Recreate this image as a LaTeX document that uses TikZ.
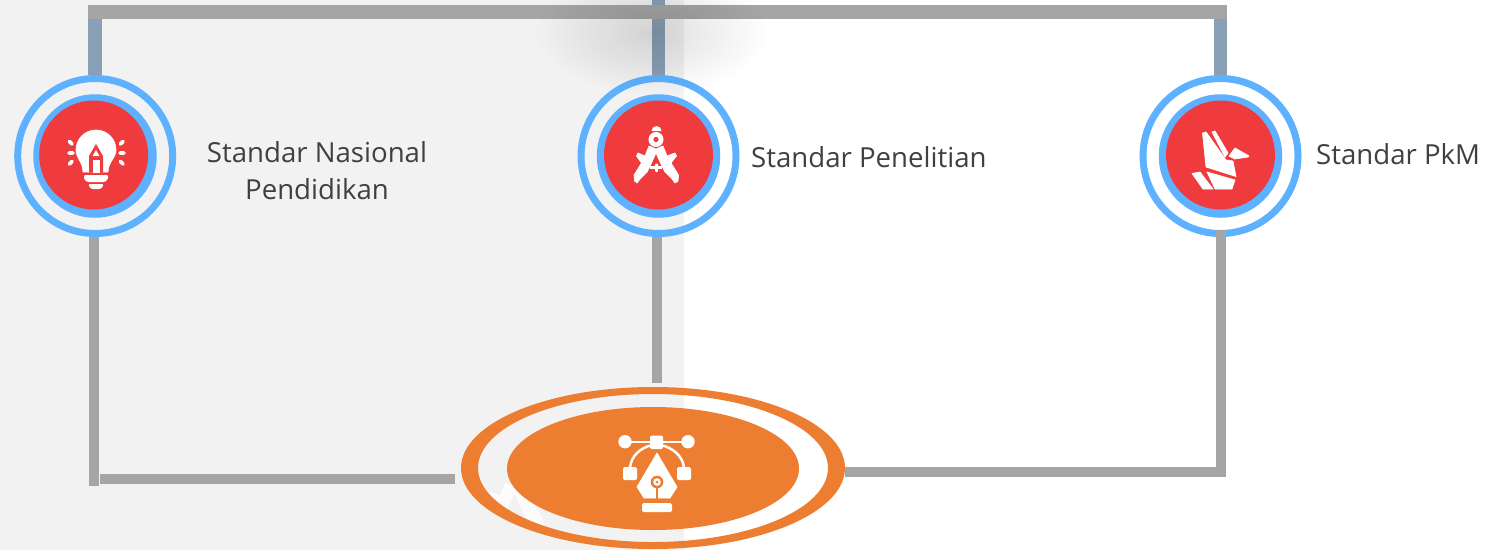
\documentclass[tikz,border=0pt]{standalone}
\usepackage{fontspec}
\setmainfont{Open Sans}
\usetikzlibrary{shapes.geometric,fadings}
\definecolor{barg}{HTML}{A5A5A5}
\definecolor{barb}{HTML}{8AA0B6}
\definecolor{ringb}{HTML}{5DB1FF}
\definecolor{redd}{HTML}{EF3B3D}
\definecolor{orng}{HTML}{ED7D31}
\definecolor{pale}{HTML}{F2F2F2}
\definecolor{txt}{HTML}{404040}
\tikzfading[name=softshade,inner color=transparent!0,outer color=transparent!100]
\tikzset{
  bar/.style={draw=barg,line width=10pt,line cap=butt,line join=miter},
  topbar/.style={draw=barg,line width=14pt},
  riser/.style={draw=barb,line width=14pt},
  ringout/.style={circle,draw=ringb,line width=7pt,minimum size=155pt,inner sep=0pt},
  ringin/.style={circle,fill=ringb,minimum size=123.5pt,inner sep=0pt},
  disc/.style={circle,fill=redd,minimum size=109pt,inner sep=0pt},
  textlab/.style={text=txt,font=\fontsize{27.6}{37}\selectfont,inner sep=0pt},
  ico/.style={fill=white,draw=white,line width=.7pt,line join=round},
}
\newcommand{\compasslegs}{%
  \path[ico] (649,146) -- (645,156) -- (638,153) -- (636.5,156) -- (641.5,163) -- (634,175) -- (634.5,181) -- (637,183) -- (640,179) -- (647,172) -- (651,164) -- (656,153) -- (661,164) -- (665,172) -- (672,179) -- (675,183) -- (678,181) -- (678.5,175) -- (671,163) -- (676.5,156) -- (675,153) -- (667,156) -- (663,146) -- (656,149) -- cycle;
}
\begin{document}
\begin{tikzpicture}[x=1pt,y=-1pt]
\useasboundingbox (0,0) rectangle (1489,550);
\fill[white] (0,0) rectangle (1489,550);
\fill[pale] (0,0) rectangle (684,550);

% anchors for the connectors
\coordinate (topL) at (88,12);
\coordinate (topR) at (1227,12);
\coordinate (topEdge) at (658.5,0);
\coordinate (lowL) at (94,486);
\coordinate (lowLt) at (94,237);
\coordinate (lowC) at (657,383);
\coordinate (lowCt) at (657,237);
\coordinate (lowRt) at (1221,230);
\coordinate (lowRc) at (1221,472);
\coordinate (hL) at (100,479);
\coordinate (hLe) at (455,479);

% rings
\node[ringout] (r1) at (95.2,156) {};
\node[ringout] (r2) at (658.5,156) {};
\node[ringout] (r3) at (1220.5,156) {};
\node[ringin] (i1) at (95,156) {};
\node[ringin] (i2) at (658.5,156) {};
\node[ringin] (i3) at (1220.5,156) {};
\node[disc] (d1) at (93.7,155) {};
\node[disc] (d2) at (658.5,155) {};
\node[disc] (d3) at (1220.5,155) {};

% central ellipse nodes
\node[ellipse,minimum width=384pt,minimum height=162pt,inner sep=0pt,outer sep=0pt] (halo) at (653,468) {};

% connectors
\draw[riser] (r1.north) -- (r1.north |- topL);
\draw[riser,line width=13pt] (r2.north) -- (topEdge);
\draw[riser,line width=13.5pt] (r3.north) -- (r3.north |- topR);
\draw[topbar] (topL) -- (topR);
\draw[bar] (lowLt) -- (lowL);
\draw[bar] (hL) -- (hLe);
\draw[bar] (lowCt) -- (lowC);
\draw[bar] (lowRt) -- (lowRc) -- (halo.east |- lowRc);

% soft shadow
\fill[black,opacity=.13,path fading=softshade] (652,32) ellipse [x radius=118,y radius=62];

% faint compass behind the central ellipse
\begin{scope}
  \clip (653,468) ellipse [x radius=175,y radius=74];
  \begin{scope}[shift={(515,530)},scale=1.3,shift={(-656.5,-182)},opacity=.8]
    \compasslegs
  \end{scope}
\end{scope}

% central ellipse
\fill[orng,even odd rule] (653,468) ellipse [x radius=192,y radius=81] (653,468) ellipse [x radius=175,y radius=74];
\node[ellipse,fill=orng,minimum width=292pt,minimum height=123pt,inner sep=0pt] (core) at (653,468.5) {};

% bulb icon
\path[ico] (76,150) arc [start angle=180,end angle=360,radius=20] .. controls (116,158) and (108,162) .. (108,172) -- (83,172) .. controls (83,162) and (76,158) .. (76,150) -- cycle;
\fill[redd] (96,144) -- (103,156) -- (103,172.5) -- (89,172.5) -- (89,156) -- cycle;
\fill[white] (93,160) rectangle (99.5,172.5);
\fill[white] (96,150) -- (99.5,156) -- (92.5,156) -- cycle;
\fill[white,rounded corners=1pt] (84,175) -- (108,175) -- (108,178) .. controls (107,181) and (105,182) .. (102,182) -- (90,182) .. controls (87,182) and (85,181) .. (84,178) -- cycle;
\fill[white,rounded corners=1.5pt] (88,184) -- (104,184) -- (101,189) -- (91,189) -- cycle;
\draw[white,line width=3.6pt,line cap=round] (69.5,141.5) -- (72,144) (69,153) -- (73,153) (69.5,164) -- (72,161.5) (123,141.5) -- (120.5,144) (120,153) -- (124,153) (123,164) -- (120.5,161.5);

% compass icon
\fill[white] (651.5,131) arc [start angle=180,end angle=360,radius=5] -- cycle;
\fill[white] (656,139.5) circle [radius=7.5];
\fill[redd] (656,139.5) circle [radius=2.6];
\compasslegs
\fill[white] (650,165.5) rectangle (662,168.5);
\fill[white,rounded corners=1pt] (655,163.5) rectangle (658,172);

% origami icon
\path[ico] (1202.5,133) -- (1206,132) -- (1226,160) -- (1233,161) -- (1236,176.5) -- (1206,167) -- cycle;
\path[ico] (1212,132) -- (1215,131) -- (1228,153) -- (1225,157) -- cycle;
\path[ico] (1229,156) -- (1235,148) -- (1249,156) -- (1248,157) -- (1235,159) -- cycle;
\path[ico] (1207,172) -- (1235,180) -- (1232,189) -- (1215,189) -- cycle;
\path[ico] (1192,173.5) -- (1200,172) -- (1213,189) -- (1203,189) -- cycle;

% pen tool icon
\draw[white,line width=2.5pt] (625,442) -- (688,442);
\fill[white] (625,441.7) circle [radius=6.7];
\fill[white] (688,441.7) circle [radius=6.7];
\fill[white,rounded corners=2pt] (650,435.5) rectangle (663,449);
\draw[white,line width=2.5pt] (652,445) .. controls (640,448) and (631,456) .. (630,468);
\draw[white,line width=2.5pt] (661,445) .. controls (673,448) and (683,456) .. (684,468);
\fill[white,rounded corners=1.5pt] (623,467) rectangle (637,480);
\fill[white,rounded corners=1.5pt] (677,467) rectangle (691,480);
\path[ico] (657,453) -- (677,487) -- (670,498) -- (644,498) -- (637,487) -- cycle;
\fill[orng] (655.8,485) rectangle (658.2,498.5);
\fill[orng] (657,482) circle [radius=6.3];
\fill[white] (657,482) circle [radius=3.8];
\fill[orng] (657,482) circle [radius=1.5];
\fill[white,rounded corners=1.5pt] (642,503) rectangle (672,512);

% texts
\node[textlab,align=center] (t1) at (317,170.5) {Standar Nasional\\Pendidikan};
\node[textlab,anchor=west] (t2) at (751,157) {Standar Penelitian};
\node[textlab,anchor=west] (t3) at (1316,154) {Standar PkM};
\end{tikzpicture}
\end{document}
